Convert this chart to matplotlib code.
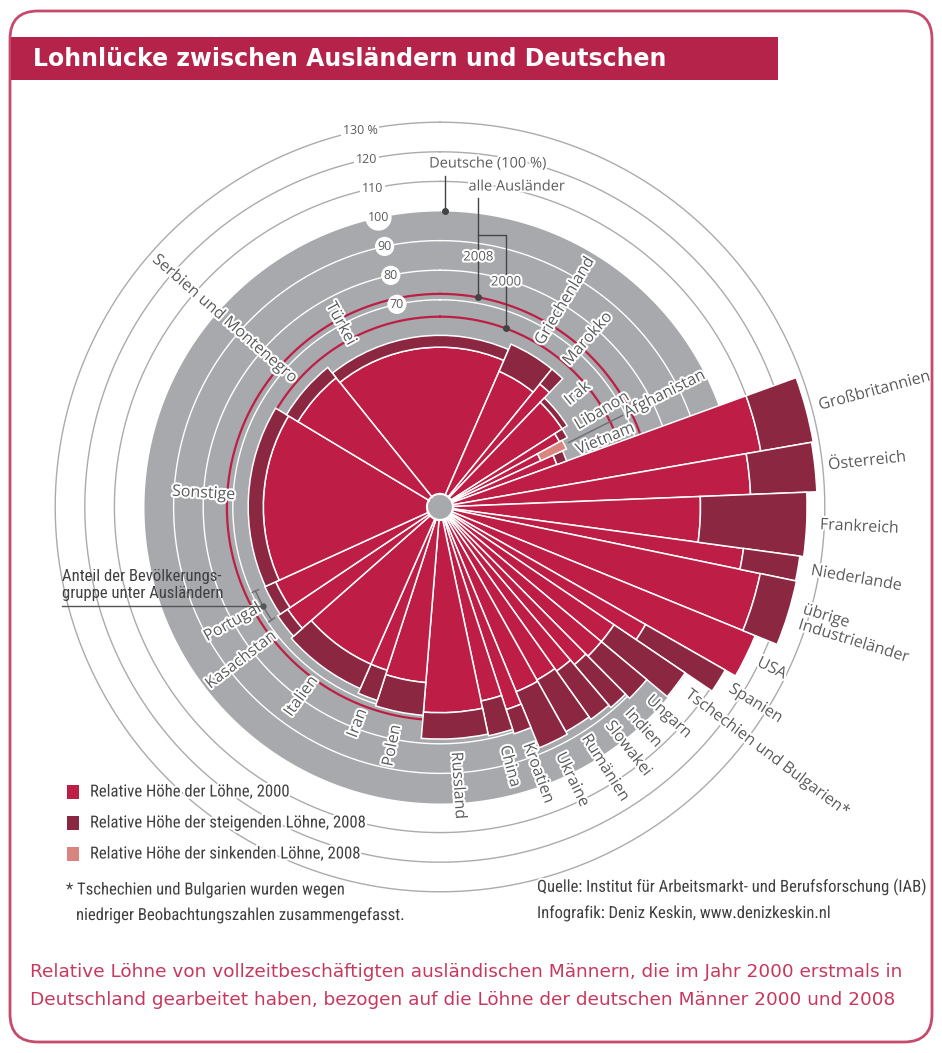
import numpy as np
import matplotlib
matplotlib.use("Agg")
import matplotlib.pyplot as plt
import matplotlib.patheffects as pe
from matplotlib.patches import Rectangle, FancyBboxPatch
from matplotlib import font_manager as fm

# ---------------- data ----------------
countries = ["Türkei", "Griechenland", "Marokko", "Irak", "Libanon", "Afghanistan", "Vietnam",
             "Großbritannien", "Österreich", "Frankreich", "Niederlande", "übrige\nIndustrieländer",
             "USA", "Spanien", "Tschechien und Bulgarien*", "Ungarn", "Indien", "Slowakei",
             "Rumänien", "Ukraine", "Kroatien", "China", "Russland", "Polen", "Iran", "Italien",
             "Kasachstan", "Portugal", "Sonstige", "Serbien und Montenegro"]
population_share = [17.3, 4.3, 1.3, 3.8, 1.1, 1.1, 1.3,
                    2.8, 2.1, 2.8, 1.1, 2.9,
                    2.1, 1.2, 1.6, 1.5, 1.2, 1.4,
                    1.7, 1.9, 1.2, 1.7, 4.6, 3.7, 1.6, 6.9,
                    2.1, 2.6, 15.4, 5.6]
wage_2000 = [54, 50, 53.5, 49, 46, 47, 42,
             110, 105, 88, 103.5, 110.5,
             115, 80, 71, 71, 70, 68,
             67, 67.5, 72, 67, 69.5, 59.5, 58, 58,
             62, 61, 59.7, 56]
wage_2008 = [58, 60, 60, 51, 49, 37.5, 45.5,
             128, 127.4, 124, 122.7, 123,
             115, 111, 100, 91, 89, 88,
             87, 88, 80.6, 79, 78.4, 70.6, 68.7, 67,
             66, 65, 64.8, 60.5]
all_foreigners_2000 = 64.3
all_foreigners_2008 = 72.0
germans = 100
inner_ticks = [70, 80, 90, 100]
outer_ticks = [110, 120, 130]
legend_labels = ["Relative Höhe der Löhne, 2000",
                 "Relative Höhe der steigenden Löhne, 2008",
                 "Relative Höhe der sinkenden Löhne, 2008"]

# ---------------- style ----------------
W, H, DPI = 942, 1053, 100
CX, CY, K = 440, 507, 2.96          # centre (px) and px per percent
RMAX = 140
START = -38.8                        # start angle of first wedge (deg, clockwise from north)
RED = "#BE1E45"
DARK = "#8C2742"
PINK = "#D9847F"
GREY = "#A7A9AC"
TXT = "#5B5C5E"
FRAME = "#C64A6C"

names = {f.name for f in fm.fontManager.ttflist}
SANS = "Open Sans" if "Open Sans" in names else "DejaVu Sans"
COND = SANS
for cand in ["Roboto Condensed", "Liberation Sans Narrow", "Open Sans Condensed"]:
    if cand in names:
        COND = cand
        break

halo = [pe.withStroke(linewidth=3, foreground="white")]

fig = plt.figure(figsize=(W / DPI, H / DPI), dpi=DPI)
fig.patch.set_facecolor("white")
R = RMAX * K
ax = fig.add_axes([(CX - R) / W, 1 - (CY + R) / H, 2 * R / W, 2 * R / H], projection="polar")
ax.set_theta_zero_location("N")
ax.set_theta_direction(-1)
ax.set_ylim(0, RMAX)
ax.set_axis_off()

shares = np.array(population_share, float)
ang = shares / shares.sum() * 360.0
edges = START + np.concatenate([[0], np.cumsum(ang)])
centers = (edges[:-1] + edges[1:]) / 2
th = np.deg2rad(centers)
wd = np.deg2rad(ang)
v0 = np.array(wage_2000, float)
v8 = np.array(wage_2008, float)

tt = np.linspace(0, 2 * np.pi, 721)
ax.fill_between(tt, 0, germans, color=GREY, lw=0, zorder=0)
for v in inner_ticks[:-1]:
    ax.plot(tt, np.full_like(tt, v), color="white", lw=1.0, zorder=1)
for v in outer_ticks:
    ax.plot(tt, np.full_like(tt, v), color="#ABABAB", lw=1.0, zorder=1)
for v in (all_foreigners_2000, all_foreigners_2008):
    ax.plot(tt, np.full_like(tt, v), color=RED, lw=1.6, zorder=2)

# bars
base = np.minimum(v0, v8)
ax.bar(th, base, width=wd, bottom=0, color=RED, edgecolor="white", lw=1.1, zorder=3)
up = v8 > v0
ax.bar(th[up], (v8 - v0)[up], width=wd[up], bottom=v0[up], color=DARK,
       edgecolor="white", lw=1.1, zorder=3)
dn = v8 < v0
ax.bar(th[dn], (v0 - v8)[dn], width=wd[dn], bottom=v8[dn], color=PINK,
       edgecolor="white", lw=1.1, zorder=3)

# centre disc
ax.fill_between(tt, 0, 4.2, color=GREY, lw=0, zorder=5)
ax.plot(tt, np.full_like(tt, 4.4), color="white", lw=1.6, zorder=5)

# ring labels
TICK_ANG = np.deg2rad(-12)
for v in inner_ticks:
    ax.text(TICK_ANG, v, str(v), ha="center", va="center", fontsize=9, color=TXT,
            family=SANS, zorder=6,
            bbox=dict(boxstyle="circle,pad=0.2", fc="white", ec="none"))
for v in outer_ticks:
    lab = f"{v} %" if v == outer_ticks[-1] else str(v)
    ax.text(TICK_ANG, v, lab, ha="center", va="center", fontsize=9, color=TXT,
            family=SANS, zorder=6,
            bbox=dict(boxstyle="square,pad=0.15", fc="white", ec="none"))

# country labels
LABEL_THETA = {"Türkei": -28.5}
LABEL_R = {"Afghanistan": 70}
for i, name in enumerate(countries):
    thd = LABEL_THETA.get(name, centers[i]) % 360
    r = LABEL_R.get(name, max(v0[i], v8[i]) + 4.5)
    phi = (90 - thd + 180) % 360 - 180
    if -90 <= phi <= 90:
        rot, ha = phi, "left"
    else:
        rot = phi - 180 if phi > 90 else phi + 180
        ha = "right"
    ax.text(np.deg2rad(thd), r, name, rotation=rot, rotation_mode="anchor", ha=ha,
            va="center", fontsize=11.5, color=TXT, family=SANS, zorder=7,
            path_effects=halo, linespacing=1.0)

# Afghanistan leader line
ia = countries.index("Afghanistan")
ax.plot([th[ia], th[ia]], [max(v0[ia], v8[ia]) + 1.5, 69], color="#6D6E71", lw=1, zorder=6)

# bracket showing the share of a group (Portugal wedge)
ip = countries.index("Portugal")
RB = 68.5
arc = np.linspace(np.deg2rad(edges[ip]), np.deg2rad(edges[ip + 1]), 40)
ax.plot(arc, np.full_like(arc, RB), color="#6D6E71", lw=1, zorder=6)
for e in (edges[ip], edges[ip + 1]):
    ax.plot([np.deg2rad(e)] * 2, [RB - 1.2, RB + 1.2], color="#6D6E71", lw=1, zorder=6)

# ---------------- overlay (pixel coordinates) ----------------
ov = fig.add_axes([0, 0, 1, 1])
ov.set_xlim(0, W)
ov.set_ylim(H, 0)
ov.axis("off")


def pol2px(theta_deg, r):
    t = np.deg2rad(theta_deg)
    return CX + K * r * np.sin(t), CY - K * r * np.cos(t)


ov.add_patch(FancyBboxPatch((10, 11), W - 20, H - 22, boxstyle="round,pad=0,rounding_size=28",
                            fc="none", ec=FRAME, lw=2))
ov.add_patch(Rectangle((11, 37), 767, 43, fc="#B5234B", ec="none"))
ov.text(33, 59, "Lohnlücke zwischen Ausländern und Deutschen", color="white",
        fontsize=17, fontweight="bold", family="DejaVu Sans", va="center", ha="left")

# annotations for Germans / all foreigners
dx, dy = pol2px(1.0, germans)
ov.plot([dx, dx], [176, dy], color="#444444", lw=1)
ov.plot([dx], [dy], "o", color="#444444", ms=4)
ov.text(488, 164, "Deutsche (100 %)", ha="center", va="center", fontsize=10.5, color=TXT,
        family=SANS, path_effects=halo)
x8 = 478.3
t8 = np.rad2deg(np.arcsin((x8 - CX) / (K * all_foreigners_2008)))
x8, y8 = pol2px(t8, all_foreigners_2008)
x0 = 506
t0 = np.rad2deg(np.arcsin((x0 - CX) / (K * all_foreigners_2000)))
x0, y0 = pol2px(t0, all_foreigners_2000)
ov.plot([x8, x8], [198, y8], color="#444444", lw=1)
ov.plot([x8, x0, x0], [235, 235, y0], color="#444444", lw=1)
ov.plot([x8, x0], [y8, y0], "o", color="#444444", ms=4)
ov.text(517, 187, "alle Ausländer", ha="center", va="center", fontsize=10.5, color=TXT,
        family=SANS, path_effects=halo)
ov.text(x8, 257, "2008", ha="center", va="center", fontsize=9.5, color=TXT, family=SANS,
        path_effects=halo)
ov.text(x0, 282, "2000", ha="center", va="center", fontsize=9.5, color=TXT, family=SANS,
        path_effects=halo)

# bracket leader
bx, by = pol2px((edges[ip] + edges[ip + 1]) / 2, RB)
ov.plot([62, bx], [by, by], color="#555555", lw=1)
ov.plot([bx], [by], "o", color="#555555", ms=3.5)
ov.text(62, by - 5, "Anteil der Bevölkerungs-\ngruppe unter Ausländern", ha="left", va="bottom",
        fontsize=12, color="#404042", family=COND, linespacing=1.15)

# legend
for j, (lab, col) in enumerate(zip(legend_labels, [RED, DARK, PINK])):
    yy = 792 + j * 31
    ov.add_patch(Rectangle((67, yy - 7), 12, 14, fc=col, ec="none"))
    ov.text(90, yy, lab, ha="left", va="center", fontsize=12, color="#404042", family=COND,
            path_effects=halo)

ov.text(66, 890, "* Tschechien und Bulgarien wurden wegen", ha="left", va="center",
        fontsize=12, color="#404042", family=COND, path_effects=halo)
ov.text(76, 915, "niedriger Beobachtungszahlen zusammengefasst.", ha="left", va="center",
        fontsize=12, color="#404042", family=COND, path_effects=halo)
ov.text(537, 887, "Quelle: Institut für Arbeitsmarkt- und Berufsforschung (IAB)", ha="left",
        va="center", fontsize=12, color="#404042", family=COND, path_effects=halo)
ov.text(537, 913, "Infografik: Deniz Keskin, www.denizkeskin.nl", ha="left", va="center",
        fontsize=12, color="#404042", family=COND, path_effects=halo)

ov.text(30, 972, "Relative Löhne von vollzeitbeschäftigten ausländischen Männern, die im Jahr 2000 erstmals in",
        ha="left", va="center", fontsize=13.3, color="#C8385E", family="DejaVu Sans")
ov.text(30, 1000, "Deutschland gearbeitet haben, bezogen auf die Löhne der deutschen Männer 2000 und 2008",
        ha="left", va="center", fontsize=13.3, color="#C8385E", family="DejaVu Sans")

fig.savefig("out.png", dpi=DPI, facecolor="white")
